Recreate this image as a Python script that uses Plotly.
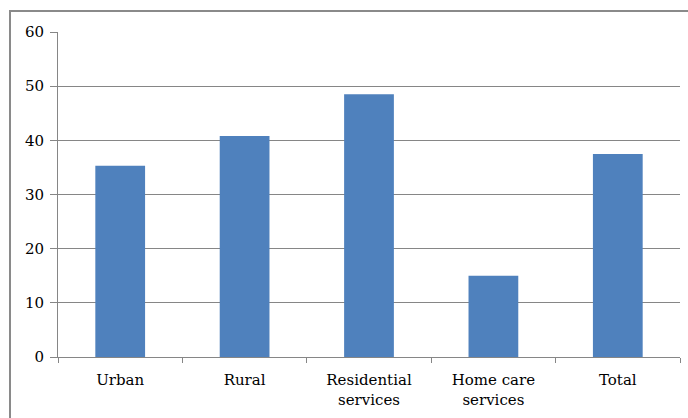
import plotly.graph_objects as go

categories = ["Urban", "Rural", "Residential<br>services", "Home care<br>services", "Total"]
values = [35.3, 40.8, 48.5, 15.0, 37.5]
y_ticks = [0, 10, 20, 30, 40, 50, 60]

W, H = 688, 418
L, R, T, B = 58, 8, 31.5, 60.5
pw, ph = W - L - R, H - T - B

def px_x(px):
    return (px - L) / pw

def px_y(py):
    return (H - B - py) / ph

FONT = "DejaVu Serif"
FS = 15

fig = go.Figure(go.Bar(x=categories, y=values, marker=dict(color="#4F81BD", line=dict(width=0))))

fig.update_layout(
    width=W, height=H,
    margin=dict(l=L, r=R, t=T, b=B, pad=0),
    paper_bgcolor="white", plot_bgcolor="white",
    bargap=0.6,
    showlegend=False,
    font=dict(family=FONT, size=FS, color="black"),
    xaxis=dict(showline=True, linecolor="#868686", linewidth=1, ticks="outside",
               tickson="boundaries", ticklen=5, tickcolor="#868686", showgrid=False,
               ticklabelstandoff=9,
               tickfont=dict(family=FONT, size=FS, color="black")),
    yaxis=dict(range=[0, 60], tickvals=y_ticks, showline=True, linecolor="#868686", linewidth=1,
               ticks="outside", ticklen=7, tickcolor="#868686", showgrid=True,
               gridcolor="#868686", gridwidth=1, zeroline=False,
               ticklabelstandoff=3,
               tickfont=dict(family=FONT, size=FS, color="black")),
    shapes=[dict(type="rect", xref="paper", yref="paper",
                 x0=px_x(10), x1=px_x(700), y0=px_y(430), y1=px_y(10.5),
                 line=dict(color="#8a8a8a", width=2), layer="below")],
)

fig.write_html("out.html")
